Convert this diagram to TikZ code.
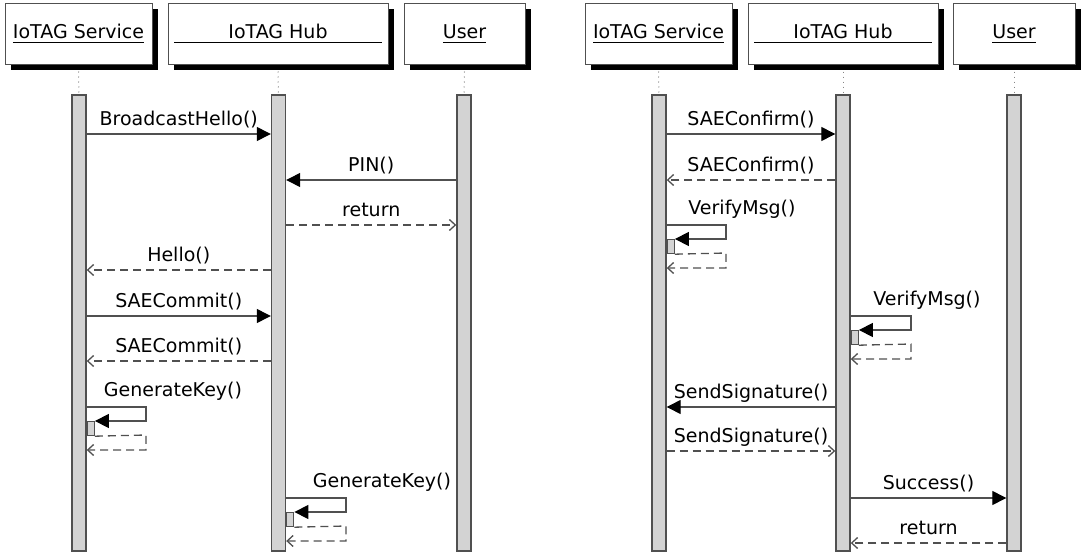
\documentclass[tikz,border=0pt]{standalone}
\usepackage{fontspec}
\setmainfont{DejaVu Sans}
\usetikzlibrary{arrows.meta,shadows}
\definecolor{SeqLine}{HTML}{505050}
\definecolor{SeqBar}{HTML}{D3D3D3}
\tikzset{head/.style={draw=SeqLine,line width=.5pt,fill=white,minimum height=30.5pt,inner sep=0pt,text height=8pt,text depth=2.5pt,drop shadow={fill=black,opacity=1,shadow xshift=3pt,shadow yshift=-3pt}},
bar/.style={draw=SeqLine,line width=.7pt,fill=SeqBar,minimum width=7pt,minimum height=228pt,inner sep=0pt},
act/.style={draw=SeqLine,line width=.6pt,fill=SeqBar,minimum width=3.5pt,minimum height=7pt,inner sep=0pt,anchor=north west},
call/.style={-{Triangle[length=7pt,width=7pt,black]},SeqLine,line width=.65pt},
ret/.style={-{Straight Barb[length=3pt,width=5.5pt]},SeqLine,line width=.65pt,dash pattern=on 4pt off 2.5pt},
life/.style={SeqLine!70,dotted,line width=.5pt},
lab/.style={anchor=base,inner sep=0pt,text=black}}
\begin{document}
\begin{tikzpicture}[x=.5pt,y=-.5pt,font=\fontsize{9.5}{11}\selectfont]
\useasboundingbox (0,0) rectangle (1083,557);
% heads
\node[head,minimum width=73.5pt] (lsvcH) at (78.5,33.5) {\underline{IoTAG Service}};
\node[head,minimum width=110pt] (lhubH) at (278,33.5) {IoTAG Hub};
\node[head,minimum width=60.5pt] (luserH) at (464.5,33.5) {\underline{User}};
\node[head,minimum width=73.5pt] (rsvcH) at (658.5,33.5) {\underline{IoTAG Service}};
\node[head,minimum width=95pt] (rhubH) at (843,33.5) {IoTAG Hub};
\node[head,minimum width=61pt] (ruserH) at (1014,33.5) {\underline{User}};
\foreach \h in {lhubH,rhubH}
\draw[line width=.5pt] ([xshift=3.25pt,yshift=-4.6pt]\h.west) -- ([xshift=-3.25pt,yshift=-4.6pt]\h.east);
% activation bars
\node[bar] (lsvc) at (79,323) {};
\node[bar] (lhub) at (278.5,323) {};
\node[bar] (luser) at (464,323) {};
\node[bar] (rsvc) at (659,323) {};
\node[bar] (rhub) at (843,323) {};
\node[bar] (ruser) at (1014,323) {};
\foreach \h/\b in {lsvcH/lsvc,lhubH/lhub,luserH/luser,rsvcH/rsvc,rhubH/rhub,ruserH/ruser}
\draw[life] ([yshift=-3.5pt]\h.south) -- (\b.north);
% messages
\foreach \y/\a/\b/\s/\t in {134/lsvc.east/lhub.west/call/BroadcastHello(),180/luser.west/lhub.east/call/PIN(),
225/lhub.east/luser.west/ret/return,270/lhub.west/lsvc.east/ret/Hello(),
316/lsvc.east/lhub.west/call/SAECommit(),361/lhub.west/lsvc.east/ret/SAECommit()}
\draw[\s] (\a |- 0,\y) -- node[midway,lab,yshift=4.5pt] (lm\y) {\t} (\b |- 0,\y);
\foreach \y/\a/\b/\s/\t in {134/rsvc.east/rhub.west/call/SAEConfirm(),180/rhub.west/rsvc.east/ret/SAEConfirm(),
407/rhub.west/rsvc.east/call/SendSignature(),451/rsvc.east/rhub.west/ret/SendSignature(),
498/rhub.east/ruser.west/call/Success(),543/ruser.west/rhub.east/ret/return}
\draw[\s] (\a |- 0,\y) -- node[midway,lab,yshift=4.5pt] (rm\y) {\t} (\b |- 0,\y);
% self calls
\foreach \n/\b/\y/\r/\lx/\t in {lk1/lsvc/407/146/173/GenerateKey(),lk2/lhub/498/346/382/GenerateKey(),
rv1/rsvc/225/726/742/VerifyMsg(),rv2/rhub/316/911/927/VerifyMsg()}{
\node[act] (\n) at (\b.east |- 0,\y+14) {};
\draw[call] (\b.east |- 0,\y) -- (\r,\y) -- (\r,\y+14) -- (\n.north east);
\draw[ret] (\n.south east) -- (\r,\y+28) -- (\r,\y+43) -- (\b.east |- 0,\y+43);
\node[lab] (\n t) at (\lx,\y-11) {\t};}
\end{tikzpicture}
\end{document}
